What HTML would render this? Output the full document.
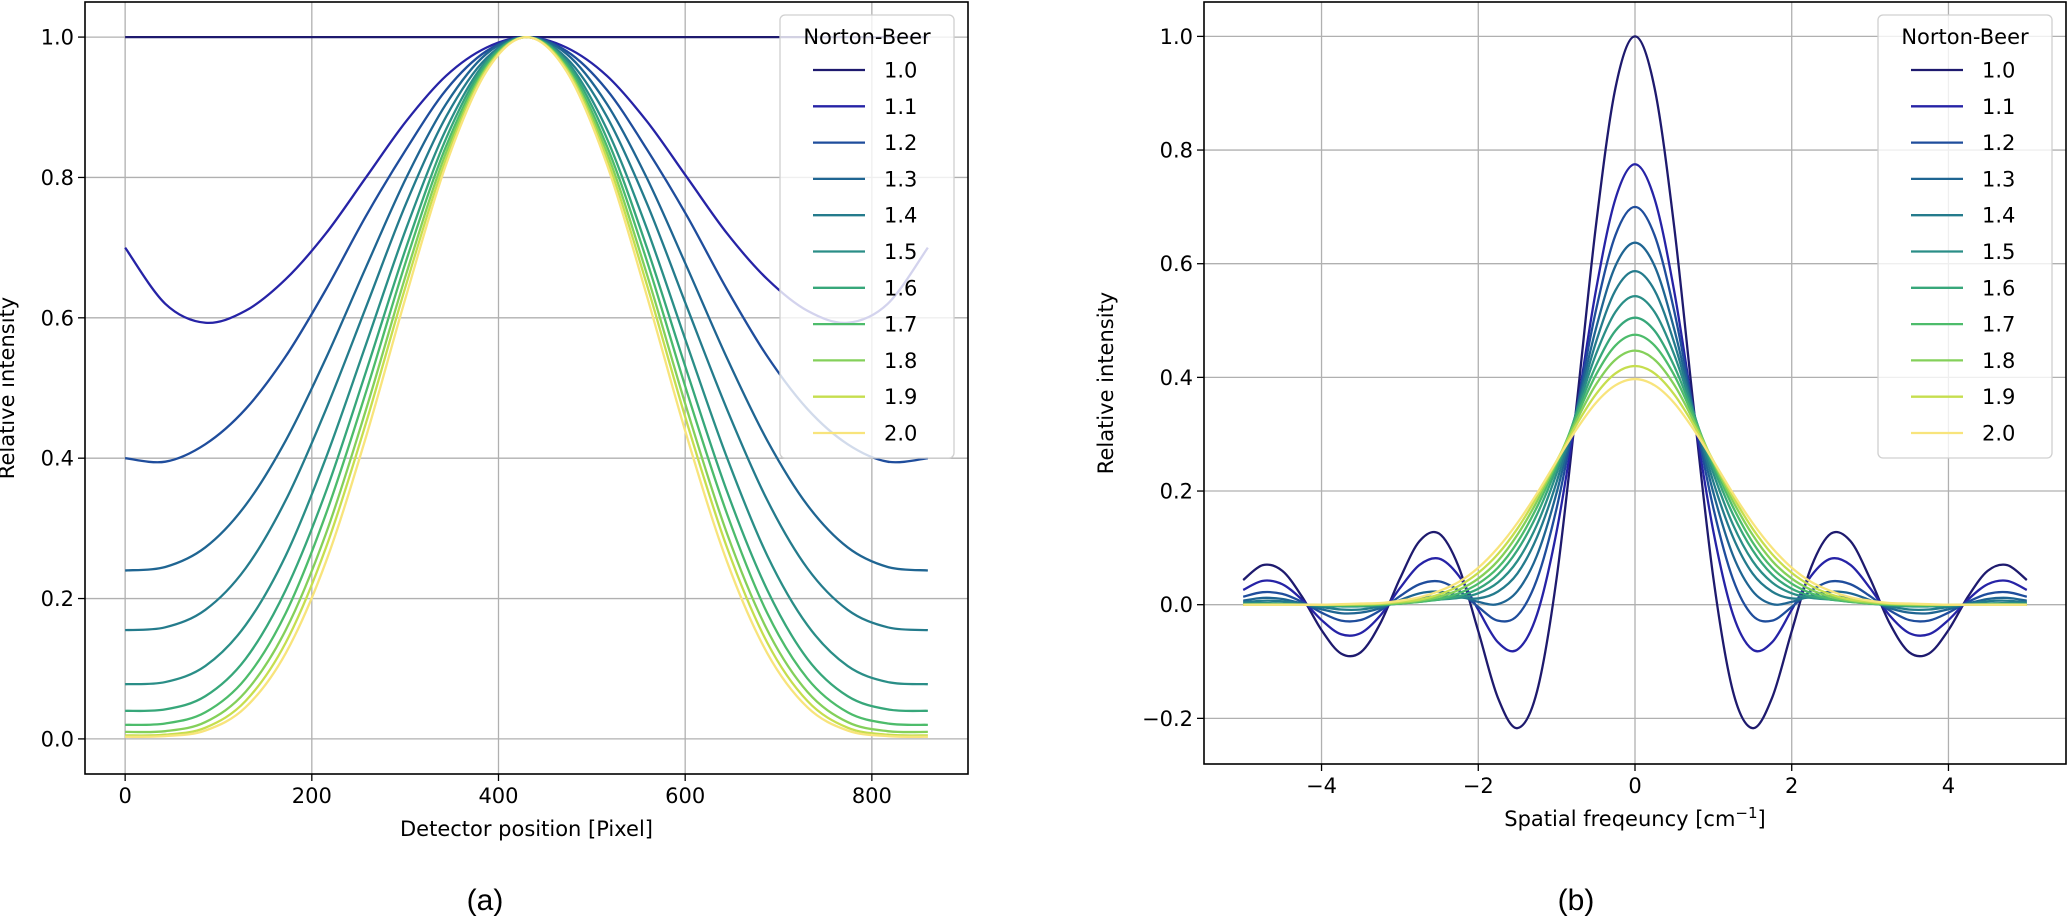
<!DOCTYPE html>
<html><head><meta charset="utf-8">
<style>
html,body{margin:0;padding:0;background:#fff;}
svg text{font-family:"DejaVu Sans","Liberation Sans",sans-serif;fill:#000;}
</style></head>
<body>
<svg id="fig" width="2067" height="918" viewBox="0 0 2067 918" xmlns="http://www.w3.org/2000/svg"></svg>
<script>
// ---- shared series data ----
const seriesLabels = ["1.0","1.1","1.2","1.3","1.4","1.5","1.6","1.7","1.8","1.9","2.0"];
const seriesColors = ["#1e1a6e","#2623a6","#1f4d9c","#1f6592","#247b8c","#2a8e87","#37a77a","#4dbc6b","#84d05a","#c6de4e","#f8e47c"];

// ---- chart (a): detector position; values from centre (430) outward, step 43 px; symmetric ----
const aCenter = 430;
const aStep = 43;
const aXTicks = [0,200,400,600,800];
const aYTicks = [0.0,0.2,0.4,0.6,0.8,1.0];
const aHalf = [
 [1,1,1,1,1,1,1,1,1,1,1],
 [1,0.985,0.945,0.88,0.80,0.72,0.655,0.61,0.593,0.62,0.70],
 [1,0.98,0.925,0.84,0.745,0.64,0.545,0.47,0.42,0.395,0.40],
 [1,0.976,0.905,0.799,0.672,0.542,0.425,0.333,0.273,0.245,0.24],
 [1,0.970,0.887,0.763,0.615,0.469,0.340,0.243,0.184,0.159,0.155],
 [1,0.966,0.869,0.727,0.562,0.400,0.261,0.162,0.104,0.081,0.078],
 [1,0.963,0.856,0.700,0.523,0.352,0.212,0.114,0.061,0.042,0.04],
 [1,0.959,0.845,0.681,0.494,0.320,0.179,0.086,0.038,0.022,0.02],
 [1,0.956,0.836,0.662,0.469,0.292,0.155,0.067,0.024,0.011,0.01],
 [1,0.954,0.827,0.647,0.450,0.272,0.137,0.054,0.016,0.006,0.005],
 [1,0.951,0.819,0.631,0.430,0.252,0.122,0.045,0.012,0.004,0.003]
];

// ---- chart (b): spatial frequency; values from 0 outward, step 0.25; symmetric ----
const bStep = 0.25;
const bXTicks = [-4,-2,0,2,4];
const bYTicks = [-0.2,0.0,0.2,0.4,0.6,0.8,1.0];
const bHalf = [
 [1,0.9089,0.665,0.3458,0.047,-0.1524,-0.2172,-0.1636,-0.0466,0.0667,0.1251,0.1118,0.0458,-0.0328,-0.0838,-0.086,-0.0447,0.0143,0.0595,0.0697,0.0434],
 [0.775,0.714,0.552,0.336,0.129,-0.017,-0.079,-0.066,-0.009,0.051,0.081,0.070,0.029,-0.019,-0.050,-0.052,-0.027,0.009,0.036,0.042,0.026],
 [0.70,0.650,0.517,0.340,0.170,0.045,-0.019,-0.028,-0.004,0.025,0.041,0.036,0.015,-0.010,-0.027,-0.028,-0.014,0.005,0.019,0.022,0.014],
 [0.637,0.596,0.485,0.339,0.197,0.087,0.024,0.001,0.005,0.016,0.023,0.020,0.008,-0.006,-0.014,-0.015,-0.008,0.002,0.010,0.012,0.007],
 [0.587,0.553,0.461,0.338,0.216,0.119,0.055,0.023,0.011,0.013,0.015,0.011,0.004,-0.003,-0.0085,-0.0085,-0.004,0.001,0.006,0.007,0.004],
 [0.543,0.515,0.440,0.337,0.231,0.141,0.077,0.039,0.020,0.012,0.009,0.006,0.002,-0.001,-0.003,-0.003,-0.002,0.001,0.002,0.003,0.002],
 [0.505,0.482,0.420,0.334,0.241,0.159,0.096,0.053,0.028,0.015,0.009,0.005,0.002,0,-0.002,-0.002,-0.001,0,0.001,0.001,0.001],
 [0.475,0.456,0.404,0.329,0.248,0.172,0.110,0.065,0.037,0.020,0.010,0.005,0.002,0,-0.001,-0.001,0,0,0.001,0.001,0],
 [0.447,0.431,0.387,0.323,0.251,0.182,0.123,0.077,0.046,0.026,0.014,0.007,0.003,0.001,0,0,0,0,0,0,0],
 [0.42,0.407,0.370,0.316,0.253,0.190,0.134,0.089,0.056,0.033,0.018,0.009,0.005,0.002,0.001,0,0,0,0,0,0],
 [0.397,0.386,0.355,0.308,0.253,0.196,0.144,0.100,0.065,0.040,0.024,0.013,0.007,0.003,0.002,0.001,0,0,0,0,0]
];

const NS="http://www.w3.org/2000/svg";
const svg=document.getElementById('fig');
function mk(tag,attrs,parent){const e=document.createElementNS(NS,tag);for(const k in attrs)e.setAttribute(k,attrs[k]);(parent||svg).appendChild(e);return e;}
function fmt(v,d){const s=v.toFixed(d);return s.replace('-','\u2212');}
function smoothPath(pts){
  let d='M'+pts[0][0].toFixed(2)+','+pts[0][1].toFixed(2);
  for(let i=0;i<pts.length-1;i++){
    const p0=pts[i-1]||pts[i],p1=pts[i],p2=pts[i+1],p3=pts[i+2]||pts[i+1];
    const c1x=p1[0]+(p2[0]-p0[0])/6,c1y=p1[1]+(p2[1]-p0[1])/6;
    const c2x=p2[0]-(p3[0]-p1[0])/6,c2y=p2[1]-(p3[1]-p1[1])/6;
    d+=' C'+c1x.toFixed(2)+','+c1y.toFixed(2)+' '+c2x.toFixed(2)+','+c2y.toFixed(2)+' '+p2[0].toFixed(2)+','+p2[1].toFixed(2);
  }
  return d;
}

function drawChart(o){
  const g=mk('g',{});
  
  
  const X=v=>o.L+(v-o.xmin)/(o.xmax-o.xmin)*(o.R-o.L);
  const Y=v=>o.B-(v-o.ymin)/(o.ymax-o.ymin)*(o.B-o.T);
  o.xticks.forEach(t=>{
    const l=mk('line',{x1:X(t),x2:X(t),y1:o.T,y2:o.B,stroke:'#b0b0b0','stroke-width':1.3},g);
    
    
  });
  o.yticks.forEach(t=>{
    const l=mk('line',{x1:o.L,x2:o.R,y1:Y(t),y2:Y(t),stroke:'#b0b0b0','stroke-width':1.3},g);
    
    
  });
  o.series.forEach((pts,i)=>{
    const p=mk('path',{d:smoothPath(pts.map(q=>[X(q[0]),Y(q[1])])),fill:'none',stroke:seriesColors[i],'stroke-width':2.3},g);
    
    
  });
  const fr=mk('rect',{x:o.L,y:o.T,width:o.R-o.L,height:o.B-o.T,fill:'none',stroke:'#000','stroke-width':1.6},g);
  
  
  o.xticks.forEach(t=>{
    mk('line',{x1:X(t),x2:X(t),y1:o.B,y2:o.B+7,stroke:'#000','stroke-width':1.3},g);
    const tx=mk('text',{x:X(t),y:o.B+29,'text-anchor':'middle','font-size':21},g);
    tx.textContent=fmt(t,0);
    
    
  });
  o.yticks.forEach(t=>{
    mk('line',{x1:o.L-7,x2:o.L,y1:Y(t),y2:Y(t),stroke:'#000','stroke-width':1.3},g);
    const tx=mk('text',{x:o.L-11,y:Y(t)+7.5,'text-anchor':'end','font-size':21},g);
    tx.textContent=fmt(t,1);
    
    
  });
  const xt=mk('text',{x:(o.L+o.R)/2,y:o.B+62,'text-anchor':'middle','font-size':21},g);
  xt.innerHTML=o.xtitle;
  
  
  const yt=mk('text',{x:0,y:0,'text-anchor':'middle','font-size':21,transform:'translate('+o.ytx+','+((o.T+o.B)/2)+') rotate(-90)'},g);
  yt.textContent='Relative intensity';
  
  
  const pl=mk('text',{x:o.capx,y:910,'text-anchor':'middle','font-size':30,style:'font-family:"Liberation Sans",sans-serif'},g);
  pl.textContent=o.cap;
  
  
  const lg=mk('g',{},g);
  
  
  const lx=o.legR-174;
  mk('rect',{x:lx,y:15,width:174,height:443,rx:5,fill:'#fff','fill-opacity':0.8,stroke:'#d0d0d0','stroke-width':1.3},lg);
  const lt=mk('text',{x:lx+87,y:44,'text-anchor':'middle','font-size':21},lg);
  lt.textContent='Norton-Beer';
  
  
  seriesLabels.forEach((s,i)=>{
    const yy=70+i*36.3;
    const e=mk('g',{},lg);
    
    
    mk('line',{x1:lx+33,x2:lx+85,y1:yy,y2:yy,stroke:seriesColors[i],'stroke-width':2.3},e);
    const t=mk('text',{x:lx+104,y:yy+7.5,'font-size':21},e);
    t.textContent=s;
  });
}

function mirrorA(half){const pts=[];for(let i=half.length-1;i>0;i--)pts.push([aCenter-i*aStep,half[i]]);for(let i=0;i<half.length;i++)pts.push([aCenter+i*aStep,half[i]]);return pts;}
function mirrorB(half){const pts=[];for(let i=half.length-1;i>0;i--)pts.push([-i*bStep,half[i]]);for(let i=0;i<half.length;i++)pts.push([i*bStep,half[i]]);return pts;}

drawChart({name:'chart-a',L:85,R:968,T:2,B:774,xmin:-43,xmax:903,ymin:-0.05,ymax:1.05,
  xticks:aXTicks,yticks:aYTicks,series:aHalf.map(mirrorA),xtitle:'Detector position [Pixel]',ytx:14,cap:'(a)',capx:485,legR:954});
drawChart({name:'chart-b',L:1204,R:2066,T:2,B:764,xmin:-5.5,xmax:5.5,ymin:-0.2803,ymax:1.0605,
  xticks:bXTicks,yticks:bYTicks,series:bHalf.map(mirrorB),xtitle:'Spatial freqeuncy [cm<tspan dy="-8" font-size="15">\u22121</tspan><tspan dy="8">]</tspan>',ytx:1113,cap:'(b)',capx:1576,legR:2052});
</script>
</body></html>
